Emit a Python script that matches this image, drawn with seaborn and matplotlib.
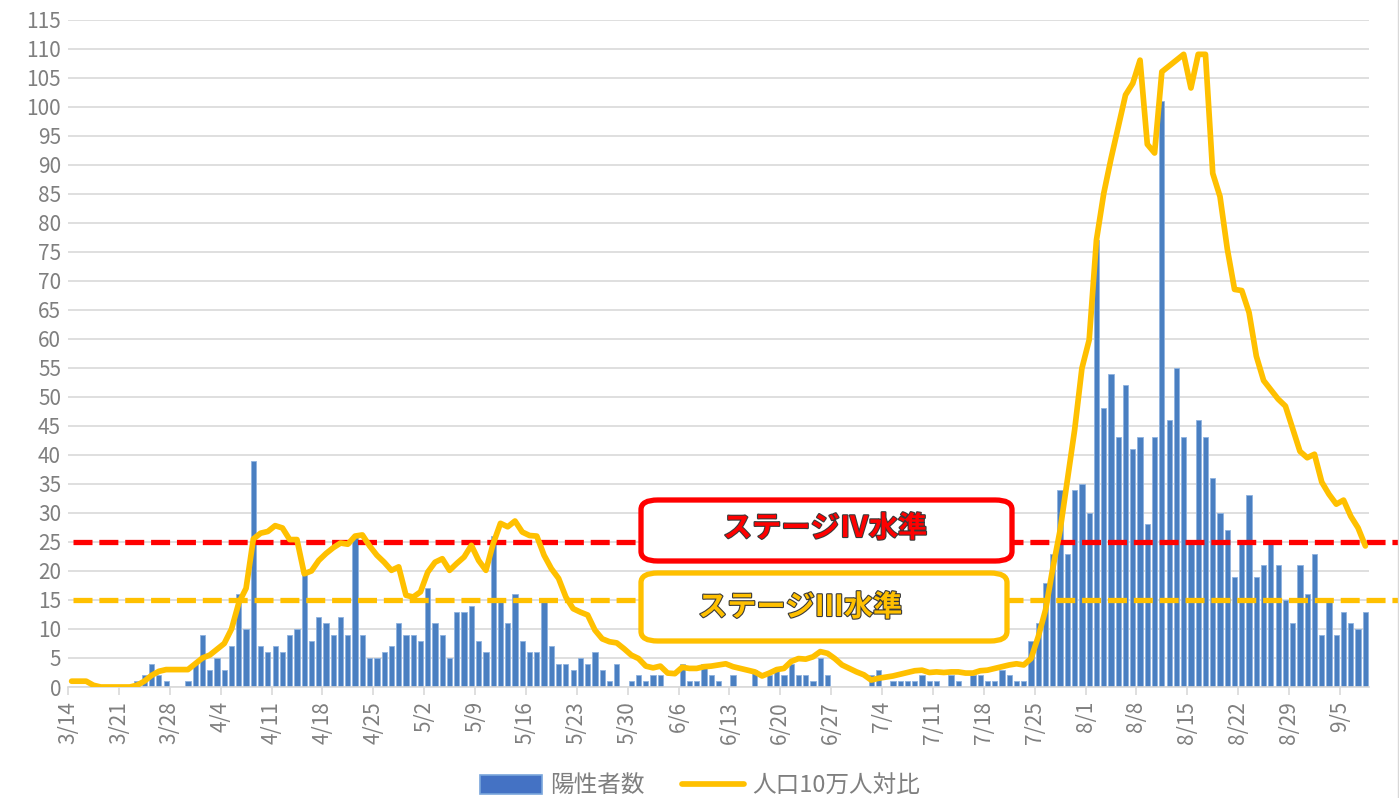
import numpy as np
import pandas as pd
import matplotlib
matplotlib.use("Agg")
import matplotlib.pyplot as plt
import matplotlib.patheffects as pe
from matplotlib.patches import FancyBboxPatch, Patch
from matplotlib.lines import Line2D
import seaborn as sns

# ---------------- data ----------------
start_date = "2021-03-14"
n_days = 179
dates = pd.date_range(start_date, periods=n_days, freq="D")
day_labels = [f"{d.month}/{d.day}" for d in dates]

# daily positives (陽性者数)
cases = [
    0, 0, 0, 0, 0, 0, 0, 0, 0, 1, 2, 4, 2, 1, 0, 0, 1, 4, 9, 3,
    5, 3, 7, 16, 10, 39, 7, 6, 7, 6, 9, 10, 20, 8, 12, 11, 9, 12, 9, 26,
    9, 5, 5, 6, 7, 11, 9, 9, 8, 17, 11, 9, 5, 13, 13, 14, 8, 6, 26, 15,
    11, 16, 8, 6, 6, 15, 7, 4, 4, 3, 5, 4, 6, 3, 1, 4, 0, 1, 2, 1,
    2, 2, 0, 0, 4, 1, 1, 4, 2, 1, 0, 2, 0, 0, 3, 0, 2, 3, 2, 4,
    2, 2, 1, 5, 2, 0, 0, 0, 0, 0, 2, 3, 0, 1, 1, 1, 1, 2, 1, 1,
    0, 2, 1, 0, 2, 2, 1, 1, 3, 2, 1, 1, 8, 11, 18, 23, 34, 23, 34, 35,
    30, 77, 48, 54, 43, 52, 41, 43, 28, 43, 101, 46, 55, 43, 25, 46, 43, 36, 30, 27,
    19, 25, 33, 19, 21, 25, 21, 15, 11, 21, 16, 23, 9, 15, 9, 13, 11, 10, 13,
]

# per 100k population (人口10万人対比)
per100k = [
    1, 1, 1, 0.3, 0, 0, 0, 0, 0, 0.3, 1, 2, 2.7, 3, 3, 3, 3, 4, 5, 5.5,
    6.5, 7.5, 10, 14.5, 17, 25.5, 26.5, 26.8, 27.8, 27.4, 25.4, 25.4, 19.5, 20, 21.8, 23, 24, 24.8, 24.6, 26,
    26.2, 24.3, 22.7, 21.5, 20.1, 20.7, 15.8, 15.5, 16.4, 19.8, 21.5, 22.1, 20.1, 21.3, 22.4, 24.4, 21.8, 20.1, 24.7, 28.2,
    27.6, 28.6, 26.7, 26.1, 26, 22.7, 20.4, 18.7, 15.5, 13.5, 12.9, 12.4, 9.8, 8.3, 7.8, 7.6, 6.6, 5.5, 4.9, 3.6,
    3.3, 3.6, 2.4, 2.3, 3.4, 3.2, 3.2, 3.5, 3.6, 3.8, 4, 3.5, 3.2, 2.9, 2.6, 1.9, 2.4, 3, 3.2, 4.4,
    4.9, 4.8, 5.2, 6.1, 5.8, 4.9, 3.8, 3.2, 2.6, 2.1, 1.2, 1.5, 1.7, 1.9, 2.2, 2.5, 2.8, 2.9, 2.5, 2.6,
    2.5, 2.6, 2.6, 2.4, 2.4, 2.8, 2.9, 3.2, 3.5, 3.8, 4, 3.8, 4.9, 8.7, 13.3, 20.5, 27, 35.7, 44.3, 54.9,
    59.8, 77, 85, 91, 96.5, 102, 104, 108, 93.5, 92, 106, 107, 108, 109, 103.2, 109, 109, 88.5, 84.5, 75.5,
    68.5, 68.3, 64.5, 57, 52.8, 51.2, 49.6, 48.4, 44.5, 40.6, 39.5, 40.1, 35.3, 33.2, 31.5, 32.2, 29.4, 27.4, 24.3,
]

stage4_level = 25
stage3_level = 15
stage4_label = "ステージⅣ水準"
stage3_label = "ステージⅢ水準"
series_labels = ["陽性者数", "人口10万人対比"]
y_ticks = list(range(0, 116, 5))
x_tick_step = 7

# ---------------- style ----------------
sns.set_theme(style="white")
plt.rcParams["font.family"] = ["Noto Sans CJK JP", "DejaVu Sans"]

BAR_FACE = "#4a7fc1"
BAR_EDGE = "#8fb3e0"
LINE_COL = "#FFC000"
RED = "#FF0000"
GRID = "#d9d9d9"
TXT = "#7f7f7f"

W, H = 1399, 798
fig = plt.figure(figsize=(W / 100, H / 100), dpi=100)
ax_l, ax_r, ax_b, ax_t = 68, 1369, 687, 19.5
ax = fig.add_axes([ax_l / W, 1 - ax_b / H, (ax_r - ax_l) / W, (ax_b - ax_t) / H])

df = pd.DataFrame({"day": np.arange(n_days), "label": day_labels,
                   "cases": cases, "per100k": per100k})

sns.barplot(data=df, x="day", y="cases", ax=ax, color=BAR_FACE, width=0.72,
            saturation=1, errorbar=None, edgecolor=BAR_EDGE, linewidth=0.6, zorder=2)
for p in ax.patches:
    p.set_facecolor(BAR_FACE)

sns.lineplot(data=df, x="day", y="per100k", ax=ax, color=LINE_COL, linewidth=4.1,
             zorder=5, solid_joinstyle="round", solid_capstyle="round")

ax.set_xlim(-0.5, n_days - 0.5)
ax.set_ylim(0, 115)
ax.set_yticks(y_ticks)
ax.set_yticklabels([str(v) for v in y_ticks], color=TXT, fontsize=15)
ax.yaxis.grid(True, color=GRID, linewidth=1.2, zorder=0)
ax.set_axisbelow(True)

tick_pos = np.arange(0, n_days, x_tick_step)
ax.set_xticks(tick_pos - 0.5)
ax.set_xticklabels([day_labels[i] for i in tick_pos], rotation=90, color=TXT, fontsize=15)
ax.tick_params(axis="x", length=6, width=1.2, color=GRID, pad=4, bottom=True)
ax.tick_params(axis="y", length=0, pad=5)
ax.set_xlabel("")
ax.set_ylabel("")
for s in ["top", "right", "left"]:
    ax.spines[s].set_visible(False)
ax.spines["bottom"].set_color(GRID)
ax.spines["bottom"].set_linewidth(1.2)

# threshold dashed lines (extend past plot area to chart edge)
x_start = -0.5 + 5 / 7.27
x_end = -0.5 + (W - ax_l) / 7.27
ax.hlines([stage4_level], x_start, x_end, colors=RED, linewidth=3.8,
          linestyles=(0, (3.6, 1.3)), clip_on=False, zorder=4)
ax.hlines([stage3_level], x_start, x_end, colors=LINE_COL, linewidth=3.8,
          linestyles=(0, (3.6, 1.3)), clip_on=False, zorder=4)

# annotation boxes
def add_box(x0, y0, x1, y1, color):
    box = FancyBboxPatch((x0 / W, 1 - y1 / H), (x1 - x0) / W, (y1 - y0) / H,
                         boxstyle="round,pad=0,rounding_size=0.012",
                         transform=fig.transFigure, facecolor="white",
                         edgecolor=color, linewidth=3.8, zorder=10)
    fig.add_artist(box)

add_box(641, 500, 1012, 561, RED)
add_box(641, 573, 1007, 641, LINE_COL)

outline = [pe.Stroke(linewidth=1.6, foreground="#3a3a3a"), pe.Normal()]
fig.text(825 / W, 1 - 528 / H, stage4_label, color=RED, fontsize=21, fontweight="bold",
         ha="center", va="center", path_effects=outline, zorder=11)
fig.text(800 / W, 1 - 607 / H, stage3_label, color=LINE_COL, fontsize=21, fontweight="bold",
         ha="center", va="center", path_effects=outline, zorder=11)

# legend
handles = [Patch(facecolor="#4472c4", edgecolor="#7aa6dc", linewidth=1.2),
           Line2D([0], [0], color=LINE_COL, linewidth=4.1, solid_capstyle="round")]
fig.legend(handles, series_labels, loc="center", bbox_to_anchor=(700 / W, 1 - 786 / H),
           ncol=2, frameon=False, fontsize=17, labelcolor=TXT, handlelength=2.6,
           handleheight=0.9, columnspacing=1.6, handletextpad=0.35)

# right chart border
fig.add_artist(Line2D([1397.5 / W, 1397.5 / W], [0, 1], color=GRID, linewidth=1.0,
                      transform=fig.transFigure))

fig.savefig("out.png", dpi=100)
